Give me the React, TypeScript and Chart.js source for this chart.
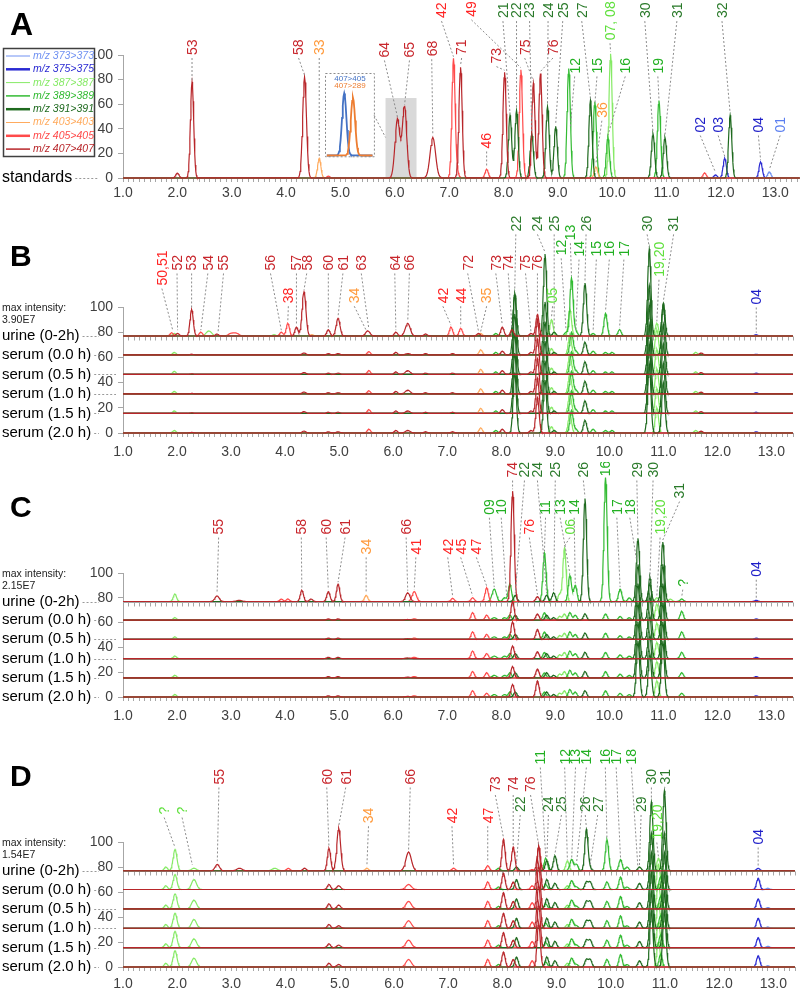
import React, { useEffect, useRef } from "react";
import { Chart, registerables } from "chart.js";

Chart.register(...registerables);

// ---------- channels ----------
const CHANNELS = [373, 375, 387, 389, 391, 403, 405, 407];
const CHANNEL_NAMES = ["m/z 373>373", "m/z 375>375", "m/z 387>387", "m/z 389>389", "m/z 391>391", "m/z 403>403", "m/z 405>405", "m/z 407>407"];
const LINE_COLORS: Record<number, string> = {
  373: "#7091f2", 375: "#2a2ad2", 387: "#86ea66", 389: "#33bb33",
  391: "#1f6a1f", 403: "#ffab5e", 405: "#ff4a4a", 407: "#b8262a",
};
const LABEL_COLORS: Record<number, string> = {
  373: "#5b7ff0", 375: "#1e1ec8", 387: "#5fe03c", 389: "#22b022",
  391: "#2a7a2a", 403: "#ff9a3c", 405: "#ff2424", 407: "#c8262c",
};
const LEGEND_WIDTHS: Record<number, number> = { 373: 1, 375: 2.5, 387: 1, 389: 1.5, 391: 2.5, 403: 1, 405: 2.5, 407: 1.5 };
// painting order, first painted first (lowest)
const DRAW_ORDER = [387, 389, 373, 375, 403, 405, 391, 407];

const ROW_NAMES = ["urine (0-2h)", "serum (0.0 h)", "serum (0.5 h)", "serum (1.0 h)", "serum (1.5 h)", "serum (2.0 h)"];
const ROW_OFFSETS = [77, 62, 46.5, 31, 15.5, 0];
const Y_LABELED = [0, 20, 40, 60, 80, 100];
const SIG = 0.03;

// ---------- Panel A (standards): [rt, height, sigma?] ----------
const A_373 = [[12.89, 5]];
const A_375 = [[11.9, 2.5], [12.07, 16], [12.73, 13]];
const A_387 = [[9.97, 101]];
const A_389 = [[9.2, 89], [9.68, 62], [9.92, 33], [10.86, 63]];
const A_391 = [[8.12, 51], [8.24, 55], [8.52, 36], [8.81, 58], [8.96, 42], [9.6, 63], [10.75, 36], [10.97, 33], [12.17, 51]];
const A_403 = [[4.61, 16], [9.7, 9]];
const A_405 = [[4.78, 1.5], [7.08, 97], [7.15, 4], [7.69, 7], [8.32, 88], [11.7, 4]];
const A_407 = [[2.0, 4], [2.27, 78], [4.34, 82, 0.035], [6.05, 48, 0.045], [6.18, 58, 0.04], [6.7, 33, 0.05], [7.21, 90], [8.02, 86], [8.55, 77], [8.68, 85]];
const INSET_405 = [[5.07, 50.5, 0.04]];
const INSET_289 = [[5.23, 47, 0.04]];
const INSET_BASE = 18.3;

// [text, channel, labelX, labelY, targetX, targetY]
const A_LABELS: any[] = [
  ["53", 407, 2.27, 100, 2.27, 78], ["58", 407, 4.23, 100, 4.34, 82], ["33", 403, 4.61, 100, 4.61, 16],
  ["64", 407, 5.81, 98, 6.05, 48], ["65", 407, 6.27, 98, 6.18, 58], ["68", 407, 6.68, 99, 6.7, 33],
  ["42", 405, 6.86, 130, 7.08, 97], ["71", 407, 7.23, 100, 7.21, 90], ["49", 405, 7.41, 131, 8.32, 88],
  ["46", 405, 7.69, 24, 7.69, 7], ["73", 407, 7.87, 93, 8.02, 86], ["21", 391, 7.99, 130, 8.12, 51],
  ["22", 391, 8.24, 130, 8.24, 55], ["75", 407, 8.39, 100, 8.55, 77], ["23", 391, 8.48, 130, 8.52, 36],
  ["76", 407, 8.91, 100, 8.68, 85], ["24", 391, 8.82, 130, 8.81, 58], ["25", 391, 9.09, 130, 8.96, 42],
  ["12", 389, 9.31, 85, 9.23, 40], ["27", 391, 9.44, 130, 9.6, 63], ["15", 389, 9.72, 85, 9.68, 58],
  ["07, 08", 387, 9.96, 112, 9.97, 101], ["36", 403, 9.81, 49, 9.7, 10], ["16", 389, 10.24, 85, 9.92, 33],
  ["30", 391, 10.6, 130, 10.75, 36], ["19", 389, 10.84, 85, 10.86, 63], ["31", 391, 11.19, 130, 10.97, 33],
  ["32", 391, 12.02, 130, 12.17, 51], ["02", 375, 11.62, 37, 11.9, 3], ["03", 375, 11.95, 37, 12.07, 16],
  ["04", 375, 12.69, 37, 12.73, 13], ["01", 373, 13.09, 37, 12.89, 5],
];

// ---------- Panels B-D: [rt, urine, s0.0, s0.5, s1.0, s1.5, s2.0, sigma?] ----------
const B_373: number[][] = [];
const B_375 = [[12.72, 1, 0.5, 1, 1, 1, 1]];
const B_387 = [
  [1.95, 2, 2, 2.5, 2, 2, 2], [2.59, 4, 0, 0, 0, 0, 0, 0.05], [3.8, 1, 0, 0, 0, 0, 0],
  [8.93, 13, 5, 5, 5, 5, 5], [9.27, 21, 16, 16, 16, 16, 16], [10.88, 10, 20, 20, 20, 20, 20], [11.6, 0, 2, 2, 2, 2, 2],
];
const B_389 = [
  [7.9, 2, 2, 2, 2, 2, 2], [9.2, 3, 0, 0, 0, 0, 0], [9.3, 46, 18, 18, 18, 18, 18], [9.38, 4, 3, 3, 3, 3, 3],
  [9.7, 2, 3, 3, 3, 3, 3], [9.93, 18, 2, 2, 2, 2, 2], [10.05, 0, 2, 2, 2, 2, 2], [10.19, 5, 0, 0, 0, 0, 0],
];
const B_391 = [
  [8.25, 34, 48, 48, 48, 48, 48], [8.81, 65, 42, 42, 42, 42, 42], [8.98, 3, 2, 2, 2, 2, 2],
  [9.55, 42, 10, 10, 10, 10, 10], [10.74, 69, 55, 55, 55, 55, 55], [11.0, 26, 40, 40, 40, 40, 40],
];
const B_403 = [[4.5, 1, 0, 0, 0, 0, 0], [7.62, 2, 4, 4, 4, 4, 4]];
const B_405 = [
  [1.9, 2.5, 0, 0, 0, 0, 0], [2.44, 3, 0, 0, 0, 0, 0], [3.0, 2, 0, 0, 0, 0, 0, 0.05], [3.1, 2, 0, 0, 0, 0, 0, 0.05],
  [3.93, 3, 0, 0, 0, 0, 0], [4.05, 10, 0, 0, 0, 0, 0], [5.55, 0, 2.5, 3, 2.5, 3, 3], [7.07, 7, 0, 0, 0, 0, 0], [7.25, 6, 0, 0, 0, 0, 0],
];
const B_407 = [
  [2.01, 2, 0, 0, 0, 0, 0], [2.27, 21, 0.5, 0.5, 0.5, 0.5, 0.5], [2.74, 1.5, 0, 0, 0, 0, 0], [4.21, 7, 0, 0, 0, 0, 0],
  [4.35, 35, 1.5, 1.5, 1.5, 1.5, 1.5, 0.035], [4.8, 5, 1, 1, 1, 1, 1], [4.98, 14, 1, 1, 1, 1, 1, 0.035],
  [5.53, 4, 0, 0, 0, 0, 0, 0.04], [6.05, 3, 2, 2, 2, 2, 2], [6.27, 10, 1, 3, 3, 2, 2, 0.045], [6.6, 1.5, 1, 1, 1, 1, 1],
  [7.1, 0, 1, 1, 1, 1, 1], [7.58, 2, 0, 0, 0, 0, 0], [8.02, 7, 3, 3, 3, 3, 3], [8.2, 5, 0, 0, 0, 0, 0],
  [8.55, 2, 2, 2, 2, 2, 2], [8.67, 17, 28, 28, 28, 28, 28], [11.7, 0, 1.5, 1.5, 1.5, 1.5, 1.5],
];
const B_LABELS: any[] = [
  ["50,51", 405, 1.72, 117, 1.92, 80], ["52", 407, 2.0, 129, 2.01, 80], ["53", 407, 2.27, 129, 2.27, 98],
  ["54", 407, 2.57, 129, 2.44, 80], ["55", 407, 2.86, 129, 2.76, 79], ["56", 407, 3.73, 129, 3.93, 80],
  ["38", 405, 4.06, 103, 4.05, 87], ["57", 407, 4.21, 129, 4.21, 84], ["58", 407, 4.4, 129, 4.35, 112],
  ["60", 407, 4.8, 129, 4.8, 82], ["61", 407, 5.07, 129, 4.98, 91], ["34", 403, 5.28, 103, 5.5, 80],
  ["63", 407, 5.41, 129, 5.55, 81], ["64", 407, 6.03, 129, 6.05, 80], ["66", 407, 6.3, 129, 6.27, 87],
  ["42", 405, 6.92, 103, 7.07, 84], ["44", 405, 7.25, 103, 7.25, 83], ["72", 407, 7.38, 129, 7.58, 79],
  ["35", 403, 7.73, 103, 7.62, 79], ["73", 407, 7.9, 129, 8.02, 84], ["74", 407, 8.13, 129, 8.2, 82],
  ["22", 391, 8.27, 160, 8.25, 111], ["75", 407, 8.45, 129, 8.55, 79], ["76", 407, 8.67, 129, 8.67, 94],
  ["24", 391, 8.67, 160, 8.81, 142], ["25", 391, 8.98, 160, 8.98, 80], ["05", 387, 8.95, 103, 8.93, 90],
  ["12", 389, 9.11, 141, 9.2, 80], ["13", 389, 9.28, 153, 9.3, 123], ["14", 389, 9.44, 140, 9.38, 81],
  ["26", 391, 9.57, 160, 9.55, 119], ["15", 389, 9.76, 140, 9.7, 79], ["16", 389, 10.0, 140, 9.93, 95],
  ["17", 389, 10.27, 140, 10.19, 82], ["30", 391, 10.7, 160, 10.74, 146], ["19,20", 387, 10.92, 124, 10.88, 87],
  ["31", 391, 11.19, 160, 11.0, 103], ["04", 375, 12.72, 102, 12.72, 78],
];

const C_373: number[][] = [];
const C_375 = [[12.72, 1, 1, 1, 1, 1, 1]];
const C_387 = [
  [1.96, 6, 2, 2, 2, 2, 2], [9.08, 6, 3, 3, 3, 3, 3], [9.17, 43, 5, 5, 5, 5, 5],
  [10.88, 3, 13, 13, 13, 13, 13], [11.13, 2, 0, 0, 0, 0, 0],
];
const C_389 = [
  [7.87, 10, 2, 2, 2, 2, 2, 0.04], [8.06, 3, 2, 2, 2, 2, 2], [8.16, 14, 4, 4, 4, 4, 4], [8.8, 39, 6, 6, 5, 4, 4],
  [9.27, 21, 6, 6, 6, 6, 6], [9.37, 13, 4, 4, 4, 4, 4], [9.93, 100, 5, 5, 5, 5, 5], [10.2, 10, 3, 3, 3, 3, 3],
  [10.37, 3, 2, 2, 2, 2, 2], [11.34, 2, 7, 6, 5, 4, 3],
];
const C_391 = [
  [8.26, 5, 4, 4, 4, 4, 4], [8.84, 5, 4, 4, 4, 4, 4], [8.97, 7, 2, 2, 2, 2, 2], [9.55, 83, 5, 5, 5, 5, 5],
  [10.53, 51, 45, 45, 45, 45, 45], [10.75, 14, 35, 35, 35, 35, 35], [10.99, 48, 45, 45, 45, 45, 45],
];
const C_403 = [[5.5, 5, 0, 0, 0, 0, 0]];
const C_405 = [
  [3.93, 2, 0, 0, 0, 0, 0], [4.05, 2, 0, 0, 0, 0, 0], [6.39, 8, 1, 1, 1, 1, 1, 0.04], [7.1, 2.5, 0, 0, 0, 0, 0],
  [7.47, 3, 6, 6, 6, 5, 5], [7.73, 11, 4, 4, 4, 4, 3],
];
const C_407 = [
  [2.74, 4.5, 0, 0, 0, 0, 0, 0.04], [3.15, 1, 0, 0, 0, 0, 0, 0.05], [4.31, 9, 0, 0, 0, 0, 0], [4.48, 2, 0, 0, 0, 0, 0],
  [4.8, 8, 1, 1, 1, 1, 1], [4.98, 14, 1, 1, 1, 1, 1], [6.27, 7, 0.5, 0.5, 0.5, 0.5, 0.5, 0.04],
  [8.21, 89, 15, 14, 10, 9, 10], [8.67, 4, 5, 8, 5.5, 7, 13],
];
const C_LABELS: any[] = [
  ["55", 407, 2.77, 131, 2.74, 82], ["58", 407, 4.3, 131, 4.31, 86], ["60", 407, 4.76, 131, 4.8, 85],
  ["61", 407, 5.11, 131, 4.98, 91], ["34", 403, 5.5, 115, 5.5, 82], ["66", 407, 6.24, 131, 6.27, 84],
  ["41", 405, 6.42, 115, 6.39, 85], ["42", 405, 7.01, 115, 7.1, 80], ["45", 405, 7.25, 115, 7.47, 80],
  ["47", 405, 7.54, 115, 7.73, 88], ["09", 389, 7.78, 147, 7.87, 87], ["10", 389, 8.0, 147, 8.1, 80],
  ["74", 407, 8.21, 177, 8.21, 166], ["22", 391, 8.43, 177, 8.26, 82], ["76", 405, 8.52, 131, 8.67, 81],
  ["24", 391, 8.67, 177, 8.84, 82], ["11", 389, 8.82, 147, 8.8, 116], ["25", 391, 9.0, 177, 8.97, 84],
  ["13", 389, 9.09, 147, 9.27, 98], ["06", 387, 9.27, 131, 9.17, 120], ["14", 389, 9.35, 147, 9.37, 90],
  ["26", 391, 9.52, 177, 9.55, 160], ["16", 389, 9.92, 178, 9.93, 178], ["17", 389, 10.14, 147, 10.2, 87],
  ["18", 389, 10.38, 147, 10.5, 110], ["29", 391, 10.51, 177, 10.53, 128], ["30", 391, 10.81, 177, 10.75, 91],
  ["19,20", 387, 10.94, 131, 10.88, 80], ["31", 391, 11.3, 160, 10.99, 125], ["?", 389, 11.36, 89, 11.34, 79],
  ["04", 375, 12.72, 97, 12.72, 78],
];

const D_373 = [[12.9, 0, 1, 1, 1, 1, 1]];
const D_375 = [[12.72, 2, 9, 8, 8, 8, 9]];
const D_387 = [
  [1.79, 3, 3, 3, 3, 3, 3], [1.96, 17, 12, 12, 12, 13, 13, 0.035], [2.31, 2, 8, 7, 7, 7, 7, 0.045],
  [3.8, 2, 0, 0, 0, 0, 0, 0.05], [9.2, 8, 3, 3, 3, 3, 3], [10.88, 10, 20, 20, 20, 20, 20],
];
const D_389 = [
  [7.93, 2, 2, 2, 2, 2, 2], [8.8, 10, 4, 4, 4, 4, 4], [9.28, 9, 7, 7, 7, 7, 7, 0.035], [9.37, 5, 2, 2, 2, 2, 2],
  [9.93, 25, 6, 6, 6, 6, 6], [10.18, 9, 10, 10, 10, 10, 10], [10.3, 3, 2, 2, 2, 2, 2], [10.92, 0, 10, 10, 10, 10, 10],
];
const D_391 = [
  [8.26, 3, 8, 8, 8, 8, 8], [8.82, 8, 8, 8, 8, 8, 8], [8.97, 12, 5, 5, 5, 5, 5], [9.55, 33, 6, 6, 6, 6, 6],
  [9.62, 2, 6, 6, 6, 6, 6], [10.53, 3, 5, 5, 5, 5, 5], [10.75, 55, 45, 45, 45, 45, 45], [10.99, 64, 45, 45, 45, 45, 45],
];
const D_403 = [[5.5, 2, 0, 0, 0, 0, 0]];
const D_405 = [
  [4.05, 2, 0, 0, 0, 0, 0], [6.27, 0, 4, 6, 6, 6, 6, 0.05], [7.1, 2, 0, 0, 0, 0, 0],
  [7.73, 4, 6, 6, 6, 6, 6], [8.55, 1, 3, 5, 5, 5, 5],
];
const D_407 = [
  [2.74, 5, 0, 0, 0, 0, 0, 0.04], [3.15, 2, 0, 0, 0, 0, 0, 0.05], [4.35, 2, 0, 0, 0, 0, 0], [4.8, 18, 4, 4, 3, 3, 3],
  [4.98, 34, 3, 3, 2, 2, 2, 0.035], [6.27, 15, 0, 0, 0, 0, 0, 0.05], [8.02, 25, 13, 13, 12, 12, 12],
  [8.2, 19, 6, 6, 6, 6, 6], [8.67, 19, 35, 35, 35, 35, 35],
];
const D_LABELS: any[] = [
  ["?", 387, 1.76, 122, 1.96, 94], ["?", 387, 2.09, 122, 2.28, 80], ["55", 407, 2.77, 146, 2.74, 83],
  ["60", 407, 4.76, 146, 4.8, 95], ["61", 407, 5.11, 146, 4.98, 111], ["34", 403, 5.53, 115, 5.5, 79],
  ["66", 407, 6.3, 146, 6.27, 92], ["42", 405, 7.07, 115, 7.1, 80], ["47", 405, 7.73, 115, 7.73, 82],
  ["73", 407, 7.87, 140, 8.02, 102], ["74", 407, 8.2, 140, 8.2, 96], ["76", 407, 8.52, 140, 8.67, 96],
  ["22", 391, 8.33, 124, 8.26, 81], ["11", 389, 8.7, 162, 8.8, 87], ["24", 391, 8.85, 124, 8.82, 85],
  ["25", 391, 9.09, 124, 8.97, 89], ["12", 389, 9.15, 162, 9.2, 84], ["13", 389, 9.35, 162, 9.28, 86],
  ["14", 389, 9.55, 162, 9.37, 82], ["26", 391, 9.53, 124, 9.55, 110], ["27", 391, 9.76, 124, 9.62, 80],
  ["16", 389, 9.9, 162, 9.93, 102], ["17", 389, 10.1, 162, 10.18, 86], ["18", 389, 10.38, 162, 10.5, 79],
  ["29", 391, 10.56, 124, 10.53, 80], ["30", 391, 10.75, 146, 10.75, 132], ["31", 391, 11.0, 146, 10.99, 141],
  ["19,20", 387, 10.85, 102, 10.88, 87], ["04", 375, 12.72, 98, 12.72, 79],
];

const A_DATA: Record<number, number[][]> = { 373: A_373, 375: A_375, 387: A_387, 389: A_389, 391: A_391, 403: A_403, 405: A_405, 407: A_407 };
const B_DATA: Record<number, number[][]> = { 373: B_373, 375: B_375, 387: B_387, 389: B_389, 391: B_391, 403: B_403, 405: B_405, 407: B_407 };
const C_DATA: Record<number, number[][]> = { 373: C_373, 375: C_375, 387: C_387, 389: C_389, 391: C_391, 403: C_403, 405: C_405, 407: C_407 };
const D_DATA: Record<number, number[][]> = { 373: D_373, 375: D_375, 387: D_387, 389: D_389, 391: D_391, 403: D_403, 405: D_405, 407: D_407 };

const FONT = '"Liberation Sans", Arial, sans-serif';

const PANELS = [
  { key: "A", top: 0, height: 205, areaTop: 55, areaBottom: 178, xMax: 13.45, tickPad: 3, letterY: 26, letterSize: 32, data: A_DATA, rows: ["standards"], offsets: [0], labels: A_LABELS, intensity: "" },
  { key: "B", top: 205, height: 257, areaTop: 307, areaBottom: 433, xMax: 13.4, tickPad: 7, letterY: 258, letterSize: 30, data: B_DATA, rows: ROW_NAMES, offsets: ROW_OFFSETS, labels: B_LABELS, intensity: "3.90E7" },
  { key: "C", top: 462, height: 263, areaTop: 573, areaBottom: 697, xMax: 13.4, tickPad: 7, letterY: 509, letterSize: 30, data: C_DATA, rows: ROW_NAMES, offsets: ROW_OFFSETS, labels: C_LABELS, intensity: "2.15E7" },
  { key: "D", top: 725, height: 263, areaTop: 842, areaBottom: 967, xMax: 13.4, tickPad: 5, letterY: 778, letterSize: 30, data: D_DATA, rows: ROW_NAMES, offsets: ROW_OFFSETS, labels: D_LABELS, intensity: "1.54E7" },
];

function trace(peaks: { rt: number; h: number; s: number }[], x0: number, x1: number, base: number) {
  const xs: number[] = [x0, x1];
  peaks.forEach((p) => {
    for (let k = -12; k <= 12; k++) xs.push(p.rt + (k * p.s) / 3);
  });
  xs.sort((a, b) => a - b);
  const out: { x: number; y: number }[] = [];
  let last = -Infinity;
  for (const x of xs) {
    if (x < x0 || x > x1 || x - last < 1e-5) continue;
    last = x;
    let y = base;
    for (const p of peaks) {
      const d = (x - p.rt) / p.s;
      if (Math.abs(d) < 6) y += p.h * Math.exp(-0.5 * d * d);
    }
    out.push({ x, y });
  }
  return out;
}

function lineDs(data: any[], color: string, width = 1.2) {
  return { data, borderColor: color, backgroundColor: color, borderWidth: width, pointRadius: 0, tension: 0, fill: false, clip: false };
}

function makeOverlay(spec: any) {
  return {
    id: "overlay" + spec.key,
    beforeDatasetsDraw(chart: any) {
      const { ctx, scales, chartArea } = chart;
      const x = scales.x, y = scales.y;
      ctx.save();
      if (spec.key === "A") {
        ctx.fillStyle = "#d9d9d9";
        const gx0 = x.getPixelForValue(5.83), gx1 = x.getPixelForValue(6.4);
        const gy0 = y.getPixelForValue(65), gy1 = y.getPixelForValue(0);
        ctx.fillRect(gx0, gy0, gx1 - gx0, gy1 - gy0);
        const bx0 = x.getPixelForValue(4.72), bx1 = x.getPixelForValue(5.62);
        const by0 = y.getPixelForValue(85), by1 = y.getPixelForValue(17.3);
        ctx.fillStyle = "#ffffff";
        ctx.fillRect(bx0, by0, bx1 - bx0, by1 - by0);
      }
      if (spec.rows.length > 1) {
        const yu = Math.round(y.getPixelForValue(spec.offsets[0])) + 0.5;
        ctx.strokeStyle = "#a6a6a6";
        ctx.lineWidth = 1;
        ctx.beginPath();
        ctx.moveTo(chartArea.left, yu);
        ctx.lineTo(chartArea.right, yu);
        x.ticks.forEach((t: any) => {
          const px = Math.round(x.getPixelForValue(t.value)) + 0.5;
          ctx.moveTo(px, yu);
          ctx.lineTo(px, yu + 4);
        });
        ctx.stroke();
      }
      ctx.restore();
    },
    afterDraw(chart: any) {
      const { ctx, scales } = chart;
      const x = scales.x, y = scales.y;
      const T = spec.top;
      ctx.save();
      if (spec.key === "A") {
        const bx0 = x.getPixelForValue(4.72), bx1 = x.getPixelForValue(5.62);
        const by0 = y.getPixelForValue(85), by1 = y.getPixelForValue(17.3);
        ctx.strokeStyle = "#8c8c8c";
        ctx.lineWidth = 1;
        ctx.setLineDash([2, 2]);
        ctx.strokeRect(Math.round(bx0) + 0.5, Math.round(by0) + 0.5, bx1 - bx0, by1 - by0);
        ctx.beginPath();
        ctx.moveTo(bx1, y.getPixelForValue(51));
        ctx.lineTo(x.getPixelForValue(5.83), y.getPixelForValue(33));
        ctx.stroke();
        ctx.setLineDash([]);
        ctx.font = "8px " + FONT;
        ctx.textAlign = "center";
        ctx.textBaseline = "middle";
        ctx.fillStyle = "#4472c4";
        ctx.fillText("407>405", x.getPixelForValue(5.175), y.getPixelForValue(80.5));
        ctx.fillStyle = "#ed7d31";
        ctx.fillText("407>289", x.getPixelForValue(5.175), y.getPixelForValue(75));
      }
      spec.labels.forEach((l: any) => {
        const [text, ch, lx, ly, tx, ty] = l;
        const px = x.getPixelForValue(lx), py = y.getPixelForValue(ly);
        const qx = x.getPixelForValue(tx), qy = y.getPixelForValue(ty);
        if (qy - py > 6) {
          ctx.strokeStyle = "#8c8c8c";
          ctx.lineWidth = 1;
          ctx.setLineDash([2, 2]);
          ctx.beginPath();
          ctx.moveTo(px, py + 3);
          ctx.lineTo(qx, qy - 2);
          ctx.stroke();
          ctx.setLineDash([]);
        }
        ctx.save();
        ctx.translate(px, py);
        ctx.rotate(-Math.PI / 2);
        ctx.font = "14px " + FONT;
        ctx.fillStyle = LABEL_COLORS[ch];
        ctx.textAlign = "left";
        ctx.textBaseline = "middle";
        ctx.fillText(text, 0, 1);
        ctx.restore();
      });
      spec.rows.forEach((name: string, i: number) => {
        const off = spec.offsets[i];
        const py = y.getPixelForValue(off);
        ctx.font = (spec.key === "A" ? "16px " : "15px ") + FONT;
        ctx.fillStyle = "#000";
        ctx.textAlign = "left";
        ctx.textBaseline = "middle";
        ctx.fillText(name, 2, py);
        const w = ctx.measureText(name).width;
        const near = Y_LABELED.some((v) => Math.abs(v - off) < 6);
        const endX = near ? 99 : 116;
        ctx.strokeStyle = "#999";
        ctx.lineWidth = 1;
        ctx.setLineDash([2, 2]);
        ctx.beginPath();
        ctx.moveTo(2 + w + 3, Math.round(py) + 0.5);
        ctx.lineTo(endX, Math.round(py) + 0.5);
        ctx.stroke();
        ctx.setLineDash([]);
      });
      ctx.font = "bold " + spec.letterSize + "px " + FONT;
      ctx.fillStyle = "#000";
      ctx.textAlign = "left";
      ctx.textBaseline = "middle";
      ctx.fillText(spec.key, 10, spec.letterY - T);
      if (spec.intensity) {
        ctx.font = "10.5px " + FONT;
        ctx.fillStyle = "#222";
        ctx.fillText("max intensity:", 2, spec.areaTop + 1 - T);
        ctx.fillText(spec.intensity, 2, spec.areaTop + 13 - T);
      }
      if (spec.key === "A") {
        ctx.fillStyle = "#fff";
        ctx.fillRect(3, 48, 92, 109);
        ctx.strokeStyle = "#404040";
        ctx.lineWidth = 1.5;
        ctx.strokeRect(3.5, 48.5, 91, 108);
        CHANNELS.forEach((ch, i) => {
          const yy = 56 + i * 13.3;
          ctx.strokeStyle = LINE_COLORS[ch];
          ctx.lineWidth = LEGEND_WIDTHS[ch];
          ctx.beginPath();
          ctx.moveTo(6, yy);
          ctx.lineTo(30, yy);
          ctx.stroke();
          ctx.font = "italic 10.5px " + FONT;
          ctx.fillStyle = LINE_COLORS[ch];
          ctx.textAlign = "left";
          ctx.textBaseline = "middle";
          ctx.fillText(CHANNEL_NAMES[i], 33, yy);
        });
      }
      ctx.restore();
    },
  };
}

function buildConfig(spec: any) {
  const painted: any[] = [];
  const nRows = spec.rows.length;
  if (spec.key === "A") {
    const toPk = (arr: number[][]) => arr.map((p) => ({ rt: p[0], h: p[1], s: p[2] ?? SIG }));
    painted.push(lineDs(trace(toPk(INSET_405), 4.75, 5.59, INSET_BASE), "#4472c4", 1.8));
    painted.push(lineDs(trace(toPk(INSET_289), 4.75, 5.59, INSET_BASE), "#ed7d31", 1.8));
  }
  DRAW_ORDER.forEach((ch) => {
    const raw: number[][] = spec.data[ch] || [];
    for (let r = nRows - 1; r >= 0; r--) {
      const peaks = raw
        .map((p) => (nRows === 1 ? { rt: p[0], h: p[1], s: p[2] ?? SIG } : { rt: p[0], h: p[1 + r], s: p[7] ?? SIG }))
        .filter((p) => p.h > 0);
      painted.push(lineDs(trace(peaks, 1, spec.xMax, spec.offsets[r]), LINE_COLORS[ch], 1.2));
    }
  });
  // Chart.js paints the first dataset on top, so reverse the painting order
  const datasets = painted.slice().reverse();
  const xH = spec.height - (spec.areaBottom - spec.top);
  return {
    type: "line",
    data: { datasets },
    options: {
      responsive: false,
      animation: false,
      devicePixelRatio: 1,
      events: [],
      layout: { padding: { top: spec.areaTop - spec.top, left: 0, right: 0, bottom: 0 } },
      plugins: { legend: { display: false }, tooltip: { enabled: false }, title: { display: false } },
      scales: {
        x: {
          type: "linear",
          min: 1,
          max: spec.xMax,
          afterFit: (s: any) => { s.height = xH; },
          ticks: {
            stepSize: 0.1,
            autoSkip: false,
            includeBounds: false,
            maxRotation: 0,
            minRotation: 0,
            padding: spec.tickPad,
            color: "#404040",
            font: { family: FONT, size: 14 },
            callback: (v: number) => (Math.abs(v - Math.round(v)) < 1e-6 ? Number(v).toFixed(1) : ""),
          },
          grid: { display: true, drawOnChartArea: false, drawTicks: true, tickLength: 4, color: "#a6a6a6" },
          border: { display: true, color: "#a6a6a6" },
        },
        y: {
          min: 0,
          max: 100,
          afterFit: (s: any) => { s.width = 123; },
          ticks: {
            stepSize: 10,
            padding: 5,
            color: "#404040",
            font: { family: FONT, size: 14 },
            callback: (v: number) => (Math.round(v) % 20 === 0 ? String(Math.round(v)) : ""),
          },
          grid: { display: true, drawOnChartArea: false, drawTicks: true, tickLength: 5, color: "#a6a6a6" },
          border: { display: true, color: "#a6a6a6" },
        },
      },
    },
    plugins: [makeOverlay(spec)],
  };
}

function Panel({ spec }: { spec: any }) {
  const ref = useRef<HTMLCanvasElement>(null);
  useEffect(() => {
    const chart = new Chart(ref.current as HTMLCanvasElement, buildConfig(spec) as any);
    return () => chart.destroy();
  }, [spec]);
  return (
    <canvas
      ref={ref}
      width={800}
      height={spec.height}
      style={{ position: "absolute", left: 0, top: spec.top, width: 800, height: spec.height, display: "block" }}
    />
  );
}

export default function App() {
  return (
    <div style={{ position: "absolute", left: 0, top: 0, width: 800, height: 988, background: "#fff", overflow: "hidden" }}>
      {PANELS.map((p) => (
        <Panel key={p.key} spec={p} />
      ))}
    </div>
  );
}
